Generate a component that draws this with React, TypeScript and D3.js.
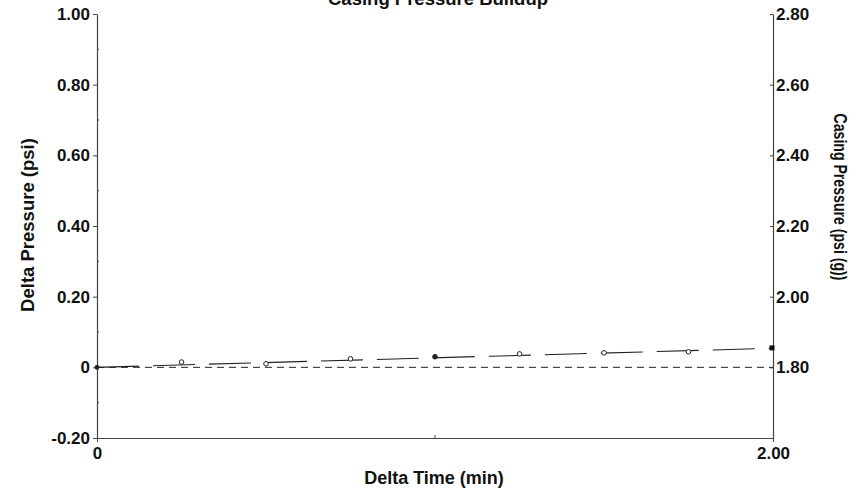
import * as d3 from "d3";
import { useEffect, useRef } from "react";

const chartTitle = "Casing Pressure Buildup";
const xLabel = "Delta Time (min)";
const yLeftLabel = "Delta Pressure (psi)";
const yRightLabel = "Casing Pressure (psi (g))";

// measured points
const deltaTime = [0, 0.25, 0.5, 0.75, 1.0, 1.25, 1.5, 1.75, 2.0];
const deltaPressure = [0, 0.015, 0.01, 0.024, 0.03, 0.038, 0.041, 0.044, 0.055];

// fitted trend line
const trendTime = [0, 2.0];
const trendPressure = [0, 0.054];

const leftTicks = [-0.2, 0, 0.2, 0.4, 0.6, 0.8, 1.0];
const leftMinor = [-0.1, 0.1, 0.3, 0.5, 0.7, 0.9];
const rightTicks = [1.8, 2.0, 2.2, 2.4, 2.6, 2.8];
const xTicks = [0, 2.0];
const xMinor = [1.0];

const W = 860;
const H = 495;
const font = "'Liberation Sans', Arial, sans-serif";

function App() {
	const ref = useRef<SVGSVGElement>(null);

	useEffect(() => {
		const svg = d3.select(ref.current);
		svg.selectAll("*").remove();

		const left = 97;
		const right = 773;
		const top = 14;
		const bottom = 438;

		const x = d3.scaleLinear().domain([0, 2]).range([left, right]);
		const yL = d3.scaleLinear().domain([-0.2, 1.0]).range([bottom, top]);
		const yR = d3.scaleLinear().domain([1.6, 2.8]).range([bottom, top]);

		// plain hyphen for negatives, bare "0" at zero
		const fmt = (d: number) =>
			d === 0 ? "0" : d3.format(".2f")(d).replace("\u2212", "-");

		// left axis
		const gl = svg
			.append("g")
			.attr("transform", `translate(${left},0)`)
			.call(
				d3
					.axisLeft(yL)
					.tickValues(leftTicks)
					.tickSize(4)
					.tickSizeOuter(0)
					.tickPadding(3)
					.tickFormat((d) => fmt(+d))
			);
		gl.append("g")
			.selectAll("line")
			.data(leftMinor)
			.enter()
			.append("line")
			.attr("x1", 0)
			.attr("x2", 2)
			.attr("y1", (d) => yL(d))
			.attr("y2", (d) => yL(d))
			.attr("stroke", "#444");

		// right axis
		const gr = svg
			.append("g")
			.attr("transform", `translate(${right},0)`)
			.call(
				d3
					.axisRight(yR)
					.tickValues(rightTicks)
					.tickSize(-3)
					.tickSizeOuter(0)
					.tickPadding(3)
					.tickFormat((d) => fmt(+d))
			);

		// bottom axis
		const gb = svg
			.append("g")
			.attr("transform", `translate(0,${bottom})`)
			.call(
				d3
					.axisBottom(x)
					.tickValues(xTicks)
					.tickSize(4)
					.tickSizeOuter(0)
					.tickPadding(5)
					.tickFormat((d) => fmt(+d))
			);
		gb.append("g")
			.selectAll("line")
			.data(xMinor)
			.enter()
			.append("line")
			.attr("x1", (d) => x(d))
			.attr("x2", (d) => x(d))
			.attr("y1", 0)
			.attr("y2", -3)
			.attr("stroke", "#444");

		[gl, gr, gb].forEach((g) => {
			g.selectAll(".domain").attr("stroke", "#444").attr("stroke-width", 1.2);
			g.selectAll(".tick line").attr("stroke", "#444");
			g.selectAll("text")
				.attr("font-family", font)
				.attr("font-weight", "bold")
				.attr("font-size", 17)
				.attr("fill", "#111");
		});

		// zero reference line
		svg.append("line")
			.attr("x1", left)
			.attr("x2", right)
			.attr("y1", yL(0))
			.attr("y2", yL(0))
			.attr("stroke", "#222")
			.attr("stroke-dasharray", "7,5");

		// trend line
		const trend = d3
			.line<number>()
			.x((d) => x(d))
			.y((_d, i) => yL(trendPressure[i]));
		svg.append("path")
			.attr("d", trend(trendTime))
			.attr("fill", "none")
			.attr("stroke", "#222")
			.attr("stroke-width", 1.1)
			.attr("stroke-dasharray", "42,14");

		// markers
		deltaTime.forEach((t, i) => {
			const cx = x(t);
			const cy = yL(deltaPressure[i]);
			if (i === deltaTime.length - 1) {
				svg.append("rect")
					.attr("x", cx - 3.5)
					.attr("y", cy - 2.5)
					.attr("width", 5)
					.attr("height", 5)
					.attr("fill", "#111");
			} else {
				svg.append("circle")
					.attr("cx", cx)
					.attr("cy", cy)
					.attr("r", i === 0 ? 2 : 2.3)
					.attr("fill", i === 0 || i === 4 ? "#222" : "white")
					.attr("stroke", "#222")
					.attr("stroke-width", 1);
			}
		});

		// titles
		svg.append("text")
			.attr("x", 438)
			.attr("y", 4.5)
			.attr("text-anchor", "middle")
			.attr("font-family", font)
			.attr("font-weight", "bold")
			.attr("font-size", 18.5)
			.attr("fill", "#111")
			.text(chartTitle);

		svg.append("text")
			.attr("x", 434)
			.attr("y", 484)
			.attr("text-anchor", "middle")
			.attr("font-family", font)
			.attr("font-weight", "bold")
			.attr("font-size", 18)
			.attr("fill", "#111")
			.text(xLabel);

		svg.append("text")
			.attr("transform", `translate(34,225) rotate(-90)`)
			.attr("text-anchor", "middle")
			.attr("font-family", font)
			.attr("font-weight", "bold")
			.attr("font-size", 18.5)
			.attr("fill", "#111")
			.text(yLeftLabel);

		// the scan squeezes this label, so fit it to its measured length
		svg.append("text")
			.attr("transform", `translate(834,197) rotate(90)`)
			.attr("text-anchor", "middle")
			.attr("font-family", font)
			.attr("font-weight", "bold")
			.attr("font-size", 17.5)
			.attr("textLength", 167)
			.attr("lengthAdjust", "spacingAndGlyphs")
			.attr("fill", "#111")
			.text(yRightLabel);
	}, []);

	return (
		<div style={{ position: "absolute", left: 0, top: 0 }}>
			<svg ref={ref} width={W} height={H} style={{ display: "block", background: "white" }} />
		</div>
	);
}

export default App;
